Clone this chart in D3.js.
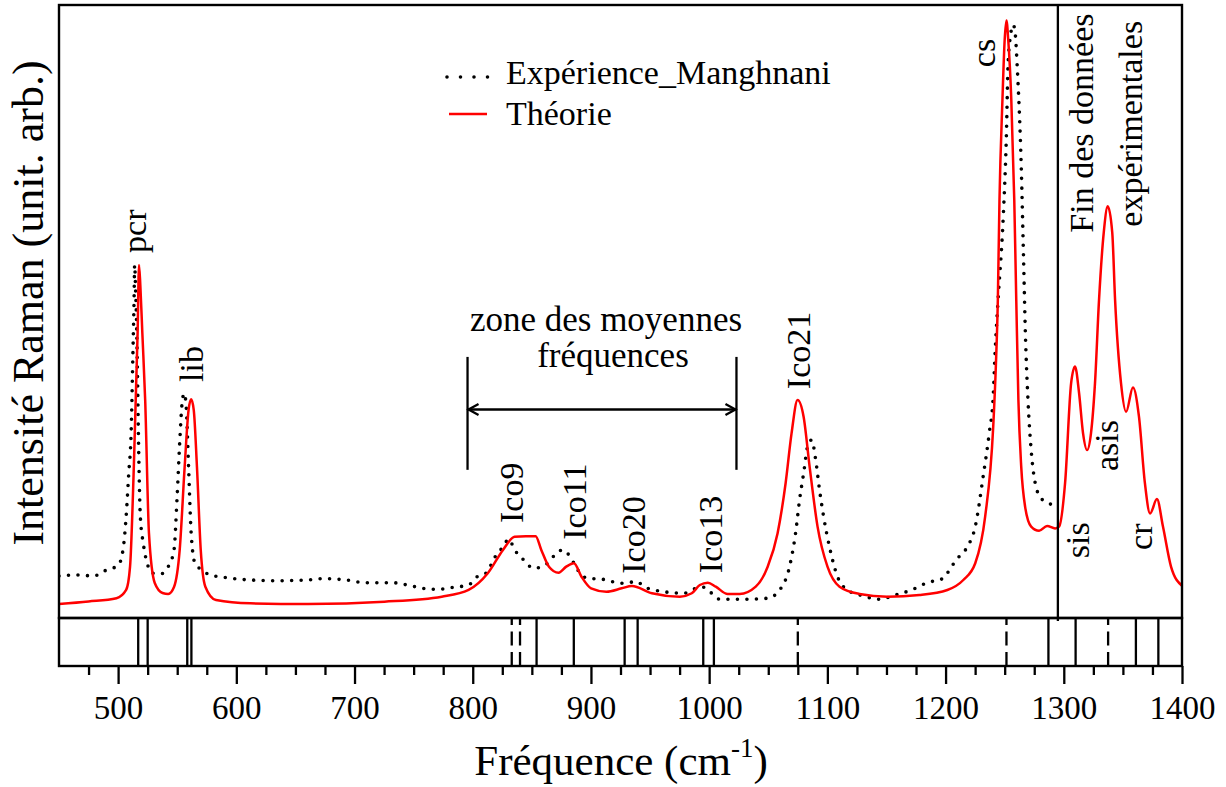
<!DOCTYPE html>
<html><head><meta charset="utf-8">
<script src="https://cdn.jsdelivr.net/npm/d3@7"></script>
<style>
body{margin:0;background:#fff}
svg{display:block}
text{font-family:"Liberation Serif","Times New Roman",serif;fill:#000}
</style>
</head><body>
<svg id="c" width="1226" height="787"></svg>
<script>
// ---------------- data ----------------
const theoryFreq = [450,475,498.6,506.8,510.1,513.3,516.5,517.7,518.8,520.5,522.9,526.1,531,537.6,542.4,547.3,552.1,556.3,559.6,561.8,564,566.7,569.9,573.8,582.8,612,660.6,725.3,773.8,796.5,812.7,825.6,835.4,845,853.2,858,864.5,872.6,879.1,885.6,892,900.1,913.1,926,934.6,951.6,975.2,985.3,992.1,998.9,1005.6,1015.7,1025.8,1039.4,1049.5,1057.9,1064.7,1069.7,1074.8,1079.9,1085,1091.7,1100.1,1110.3,1127.2,1150.8,1177.9,1201.5,1215,1225.1,1233.5,1240.3,1242.5,1244.2,1245.6,1248.1,1250,1251.5,1253,1255.6,1258.1,1259.8,1261.6,1264,1267.3,1272.4,1279.1,1285.9,1292.7,1296,1301.1,1306.2,1309.5,1312.9,1316.3,1319.7,1323,1326.4,1329.8,1333.8,1337.2,1341,1343.4,1348.4,1352.7,1358.5,1363.6,1368.6,1373,1378.8,1383.9,1390.7,1400];
const theoryInt = [2.34,2.76,3.3,4.69,8.59,25.3,47.7,59.1,55.7,47.7,36.5,14.2,5.86,4.19,4.02,5.19,11.4,25.3,34.8,36.6,34.8,25.3,11.4,5.24,3.01,2.46,2.34,2.73,3.57,4.69,7.48,11.4,13.6,13.7,13.7,11.4,8.59,7.58,8.59,9.16,6.91,4.97,4.4,4.97,5.36,4.14,3.57,4.14,5.52,5.91,5.24,4.02,4.02,5.24,8.59,14.2,22.6,30.9,36.5,33.7,25.3,15.3,8.59,5.24,4.02,3.57,3.85,4.69,6.36,9.16,17.0,32.0,42.0,53.2,70.0,86.7,96.8,100,96.8,86.7,70.0,53.2,36.5,25.3,18.6,15.3,14.6,15.4,15.0,15.3,22.6,39.3,42.1,37.7,30.9,28.1,30.9,39.3,53.2,64.5,68.9,64.5,53.2,39.3,34.5,38.6,33.7,22.6,17.5,19.9,15.3,8.6,5.4];

const expFreq = [450,466.3,479.3,489,500.3,504.5,506.8,509,511,512.6,513.5,514,514.8,515.8,516.5,517.4,518.8,521.3,524.6,529.4,535.9,542.4,547.3,549.8,552.1,554.4,556,557.6,559.6,561.8,565,569.9,578,589.3,612,634.7,660.6,673.5,693,709.1,731.8,744.7,757.7,770.6,783.6,796.5,803,811.1,819.2,825.6,830.5,835.4,841.8,851.6,861.3,869.3,875.9,882.3,888.8,896.8,909.9,926,939,944.8,961.7,978.5,988.7,995.5,1002.2,1009,1025.8,1049.5,1059.6,1068,1073.1,1076.5,1079.9,1083.3,1086.7,1090.1,1093.4,1096.8,1101.8,1108.6,1117,1130.6,1144,1157.6,1171.1,1184.5,1198.1,1204.9,1211.6,1218.4,1225.1,1231.8,1236.9,1240.3,1242,1244.4,1248.8,1251.5,1252.8,1255,1257.2,1259,1260.6,1264,1266,1267.5,1269.7,1272.4,1275.8,1280.9,1287.6,1292.7];
const expInt = [7.03,7.2,7.03,7.92,8.87,11.9,17.0,24.2,30.9,44.9,53.2,59.1,54.9,47.7,39.3,28.1,17.0,12.5,9.16,7.48,7.37,8.59,11.4,19.8,29.3,36.5,37.6,35.4,25.3,14.2,9.16,8.15,7.2,6.81,6.36,6.24,6.36,6.58,6.36,5.91,5.91,5.52,4.97,4.8,5.14,5.52,6.81,7.48,10.3,11.9,13.2,11.4,9.99,8.32,8.87,10.5,11.4,10.3,8.04,6.65,6.48,5.81,6.08,5.24,4.4,4.14,4.97,5.14,4.14,3.13,3.13,3.3,4.69,8.59,14.2,19.8,24.2,28.7,29.8,26.5,21.4,17.0,11.9,6.91,4.69,3.68,3.13,3.85,4.69,5.91,6.65,8.59,10.3,11.9,15.3,23.7,30.9,37.1,44.9,53.2,67.2,81.2,92.3,97.6,99.3,97.6,92.3,75.6,59.9,47.7,36.5,28.1,22.6,20.0,19.2,18.6];

// computed mode frequencies (stick panel)
const solidModes = [517,525,558.5,562,854,885.5,928.5,939.5,995,1004,1287,1310,1361,1380];
const dashedModes = [833,840,1075,1251.5,1337.5];

const majorTicks = [500,600,700,800,900,1000,1100,1200,1300,1400];
const minorTicks = [475,525,550,575,625,650,675,725,750,775,825,850,875,925,950,975,1025,1050,1075,1125,1150,1175,1225,1250,1275,1325,1350,1375];

const dataEnd = 1295;               // end of experimental data
const zoneBounds = [795.6, 1023.1]; // "zone des moyennes fréquences"
const zoneLevels = [24.8, 34.9, 43.7]; // bracket bottom, arrow, bracket top

const peakLabels = [
  {t:"pcr", f:523.6, v:61.1},
  {t:"lib", f:571.8, v:39.5},
  {t:"Ico9", f:842.1, v:15.9},
  {t:"Ico11", f:895.8, v:13.1},
  {t:"Ico20", f:945.7, v:7.4},
  {t:"Ico13", f:1010.9, v:7.5},
  {t:"Ico21", f:1085.3, v:38.3},
  {t:"cs", f:1241.8, v:92.2},
  {t:"Fin des données", f:1325.1, v:64.5},
  {t:"expérimentales", f:1366.2, v:65.5},
  {t:"sis", f:1321.3, v:10.0},
  {t:"asis", f:1345.9, v:24.6},
  {t:"cr", f:1374.6, v:11.4}
];

// ---------------- layout ----------------
const L = 59, R = 1182, T = 5, MB = 618, SB = 666;
const svg = d3.select("#c");
svg.append("rect").attr("width",1226).attr("height",787).attr("fill","#fff");

const x = d3.scaleLinear().domain([450,1400]).range([L,R]);
const y = d3.scaleLinear().domain([0,102.6]).range([MB,T]);

svg.append("clipPath").attr("id","clip").append("rect")
  .attr("x",L).attr("y",T).attr("width",R-L).attr("height",MB-T);

const theory = theoryFreq.map((f,i)=>[f,theoryInt[i]]);
const exper = expFreq.map((f,i)=>[f,expInt[i]]);
const line = d3.line().x(d=>x(d[0])).y(d=>y(d[1])).curve(d3.curveMonotoneX);

const plot = svg.append("g").attr("clip-path","url(#clip)");
plot.append("path").datum(exper).attr("d",line)
  .attr("fill","none").attr("stroke","#000").attr("stroke-width",3.6)
  .attr("stroke-linecap","round").attr("stroke-dasharray","0 9.5");
plot.append("path").datum(theory).attr("d",line)
  .attr("fill","none").attr("stroke","#ff0000").attr("stroke-width",2.5);

// separator "Fin des données"
svg.append("line").attr("x1",x(dataEnd)).attr("x2",x(dataEnd))
  .attr("y1",T).attr("y2",MB+3).attr("stroke","#000").attr("stroke-width",2.3);

// stick panel
svg.selectAll("line.solid").data(solidModes).enter().append("line")
  .attr("class","solid")
  .attr("x1",d=>x(d)).attr("x2",d=>x(d)).attr("y1",MB).attr("y2",SB)
  .attr("stroke","#000").attr("stroke-width",2.3);
svg.selectAll("line.dash").data(dashedModes).enter().append("line")
  .attr("class","dash")
  .attr("x1",d=>x(d)).attr("x2",d=>x(d)).attr("y1",SB).attr("y2",MB)
  .attr("stroke","#000").attr("stroke-width",2.3).attr("stroke-dasharray","14 6.5");

// frames
svg.append("rect").attr("x",L).attr("y",T).attr("width",R-L).attr("height",MB-T)
  .attr("fill","none").attr("stroke","#000").attr("stroke-width",2.4);
svg.append("rect").attr("x",L).attr("y",MB).attr("width",R-L).attr("height",SB-MB)
  .attr("fill","none").attr("stroke","#000").attr("stroke-width",2.4);

// axes
const gMinor = svg.append("g").attr("transform",`translate(0,${SB})`)
  .call(d3.axisBottom(x).tickValues(minorTicks).tickSize(9).tickFormat(""));
const gMajor = svg.append("g").attr("transform",`translate(0,${SB})`)
  .call(d3.axisBottom(x).tickValues(majorTicks).tickSize(18).tickFormat(d3.format("d")));
[gMinor,gMajor].forEach(g=>{
  g.select(".domain").remove();
  g.selectAll(".tick line").attr("stroke","#000").attr("stroke-width",2.3);
});
gMajor.selectAll(".tick text").attr("y",53).attr("dy",0)
  .style("font-family",'"Liberation Serif","Times New Roman",serif')
  .style("font-size","33px").attr("fill","#000");

// axis titles
const xt = svg.append("text").attr("x",621).attr("y",775).attr("text-anchor","middle")
  .style("font-size","43px");
xt.append("tspan").text("Fréquence (cm");
xt.append("tspan").attr("dy",-18).style("font-size","27px").text("-1");
xt.append("tspan").attr("dy",18).text(")");

svg.append("text").attr("transform","translate(43,303) rotate(-90)")
  .attr("text-anchor","middle").style("font-size","44px")
  .text("Intensité Raman (unit. arb.)");

// legend
svg.append("line").attr("x1",447).attr("x2",488).attr("y1",77).attr("y2",77)
  .attr("stroke","#000").attr("stroke-width",3.6).attr("stroke-linecap","round")
  .attr("stroke-dasharray","0 13.5");
svg.append("text").attr("x",506).attr("y",84).style("font-size","34px").text("Expérience_Manghnani");
svg.append("line").attr("x1",449).attr("x2",487).attr("y1",114).attr("y2",114)
  .attr("stroke","#ff0000").attr("stroke-width",2.5);
svg.append("text").attr("x",506).attr("y",125).style("font-size","34px").text("Théorie");

// peak labels (rotated)
svg.selectAll("text.lab").data(peakLabels).enter().append("text")
  .attr("class","lab")
  .attr("transform",d=>`translate(${x(d.f)},${y(d.v)}) rotate(-90)`)
  .style("font-size","34px").text(d=>d.t);

// zone bracket
const zg = svg.append("g").attr("stroke","#000").attr("stroke-width",2.3).attr("fill","none");
zoneBounds.forEach(f=>{
  zg.append("line").attr("x1",x(f)).attr("x2",x(f))
    .attr("y1",y(zoneLevels[2])).attr("y2",y(zoneLevels[0]));
});
const ay = y(zoneLevels[1]);
const xa = x(zoneBounds[0]), xb = x(zoneBounds[1]);
zg.append("line").attr("x1",xa).attr("x2",xb).attr("y1",ay).attr("y2",ay);
zg.append("path").attr("d",`M${xa+11},${ay-5.5}L${xa+1},${ay}L${xa+11},${ay+5.5}`);
zg.append("path").attr("d",`M${xb-11},${ay-5.5}L${xb-1},${ay}L${xb-11},${ay+5.5}`);

svg.append("text").attr("x",606).attr("y",331).attr("text-anchor","middle")
  .style("font-size","35px").text("zone des moyennes");
svg.append("text").attr("x",613).attr("y",367).attr("text-anchor","middle")
  .style("font-size","35px").text("fréquences");
</script>
</body></html>
